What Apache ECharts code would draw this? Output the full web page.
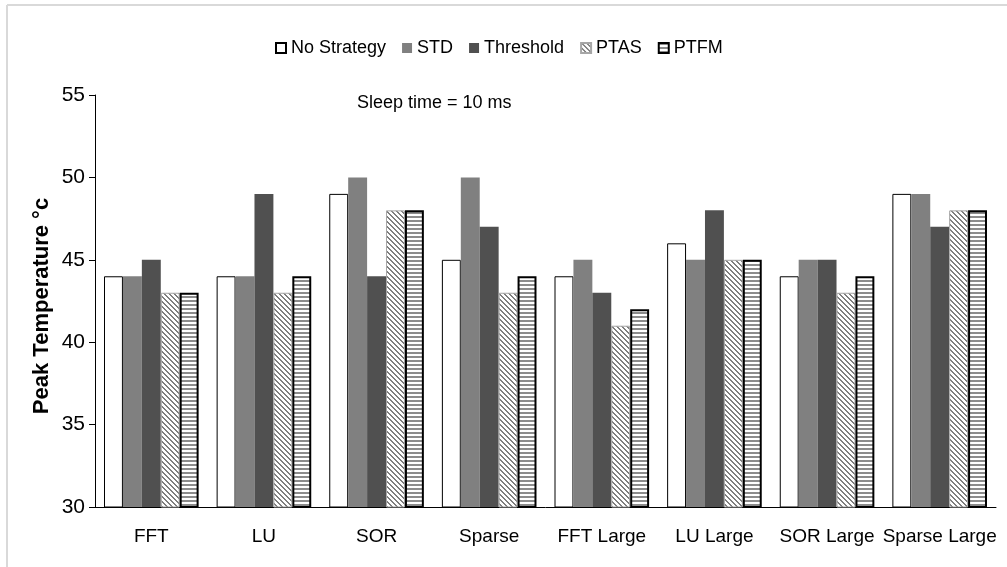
<!DOCTYPE html>
<html>
<head>
<meta charset="utf-8">
<script src="https://cdn.jsdelivr.net/npm/echarts@6/dist/echarts.min.js"></script>
<style>
  html, body { margin: 0; padding: 0; background: #fff; }
  #chart { width: 1007px; height: 567px; }
</style>
</head>
<body>
<div id="chart"></div>
<script>
// Benchmarks and peak temperature (°C) for each scheduling strategy
const categories = ['FFT', 'LU', 'SOR', 'Sparse', 'FFT Large', 'LU Large', 'SOR Large', 'Sparse Large'];
const seriesNames = ['No Strategy', 'STD', 'Threshold', 'PTAS', 'PTFM'];
const noStrategy = [44, 44, 49, 45, 44, 46, 44, 49];
const std        = [44, 44, 50, 50, 45, 45, 45, 49];
const threshold  = [45, 49, 44, 47, 43, 48, 45, 47];
const ptas       = [43, 43, 48, 43, 41, 45, 43, 48];
const ptfm       = [43, 44, 48, 44, 42, 45, 44, 48];
const yMin = 30, yMax = 55, yStep = 5;

const FONT = "'Liberation Sans', Arial, sans-serif";

// Tile builders for the hatched fills
function makeTile(size, test, fg) {
  const c = document.createElement('canvas');
  c.width = size; c.height = size;
  const ctx = c.getContext('2d');
  ctx.fillStyle = '#ffffff';
  ctx.fillRect(0, 0, size, size);
  ctx.fillStyle = fg;
  for (let y = 0; y < size; y++) {
    for (let x = 0; x < size; x++) {
      if (test(x, y, size)) ctx.fillRect(x, y, 1, 1);
    }
  }
  return c;
}
// "\" diagonal hatch
const diagTile = makeTile(5, (x, y, n) => (((x - y) % n) + n) % n < 2, '#7f7f7f');
// horizontal stripes
const horizTile = makeTile(4, (x, y) => y < 2, '#8c8c8c');

const styles = [
  { color: '#ffffff', borderColor: '#000000', borderWidth: 1 },
  { color: '#808080', borderColor: '#808080', borderWidth: 0 },
  { color: '#505050', borderColor: '#505050', borderWidth: 0 },
  { color: { image: diagTile, repeat: 'repeat' }, borderColor: '#a6a6a6', borderWidth: 1 },
  { color: { image: horizTile, repeat: 'repeat' }, borderColor: '#000000', borderWidth: 2 }
];
const values = [noStrategy, std, threshold, ptas, ptfm];

const chart = echarts.init(document.getElementById('chart'), null, { renderer: 'canvas' });

chart.setOption({
  animation: false,
  backgroundColor: '#ffffff',
  textStyle: { fontFamily: FONT },
  legend: {
    top: 34,
    left: 270,
    icon: 'rect',
    itemWidth: 10,
    itemHeight: 10,
    itemGap: 16,
    textStyle: { fontSize: 18, color: '#000', fontFamily: FONT },
    data: seriesNames
  },
  grid: { left: 95, right: 11, top: 95, bottom: 60, containLabel: false },
  xAxis: {
    type: 'category',
    data: categories,
    axisLine: { lineStyle: { color: '#000', width: 1 } },
    axisTick: { show: false },
    axisLabel: { fontSize: 19, color: '#000', margin: 20, fontFamily: FONT, interval: 0 }
  },
  yAxis: {
    type: 'value',
    min: yMin,
    max: yMax,
    interval: yStep,
    axisLine: { show: true, lineStyle: { color: '#000', width: 1 } },
    axisTick: { show: true, length: 6, lineStyle: { color: '#000' } },
    splitLine: { show: false },
    axisLabel: { fontSize: 21, color: '#000', margin: 10, fontFamily: FONT }
  },
  series: seriesNames.map((name, i) => ({
    name: name,
    type: 'bar',
    data: values[i],
    barGap: '0%',
    barCategoryGap: '16%',
    itemStyle: styles[i]
  })),
  graphic: [
    // light frame along the top and left edges
    { type: 'line', shape: { x1: 7, y1: 5, x2: 1007, y2: 5 }, style: { stroke: '#d9d9d9', lineWidth: 2 }, silent: true },
    { type: 'line', shape: { x1: 7, y1: 5, x2: 7, y2: 567 }, style: { stroke: '#d9d9d9', lineWidth: 2 }, silent: true },
    // vertical axis title
    {
      type: 'text',
      x: 42,
      y: 306,
      rotation: Math.PI / 2,
      style: {
        text: 'Peak Temperature °c',
        fontSize: 22,
        fontWeight: 'bold',
        fill: '#000',
        fontFamily: FONT,
        align: 'center',
        verticalAlign: 'middle'
      }
    },
    {
      type: 'text',
      left: 357,
      top: 94,
      style: { text: 'Sleep time = 10 ms', fontSize: 18, fill: '#000', fontFamily: FONT }
    }
  ]
});
</script>
</body>
</html>
